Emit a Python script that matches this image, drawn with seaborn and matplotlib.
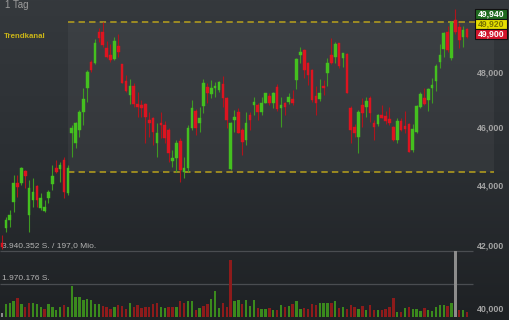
import numpy as np
import matplotlib
matplotlib.use("Agg")
import matplotlib.pyplot as plt
import matplotlib.transforms as mtransforms
from matplotlib.colors import LinearSegmentedColormap
from matplotlib.patches import Rectangle
import seaborn as sns

# ---------------- data ----------------
opens = [42090, 42580, 42850, 43450, 44090, 44090, 44500, 43010, 43510, 43990,
         43250, 43150, 43580, 44060, 44600, 44570, 44880, 43750, 45830, 45470,
         45930, 46580, 47450, 48410, 48370, 49540, 49540, 48940, 48670, 48520,
         49010, 48340, 47700, 47190, 47520, 46860, 46830, 46860, 46290, 46360,
         45470, 46180, 46110, 45930, 44850, 44950, 45540, 44470, 44600, 46000,
         46610, 46180, 46790, 47480, 47230, 47450, 47370, 47590, 47080, 44570,
         46290, 46580, 45930, 45580, 46470, 46830, 46830, 46580, 46900, 47160,
         46900, 47480, 46720, 46900, 46940, 47050, 47740, 48670, 48860, 48370,
         48110, 47160, 47050, 47520, 48000, 48670, 48600, 49120, 48560, 48710,
         46720, 46040, 45690, 46830, 46760, 47080, 46180, 46150, 46470, 46430,
         46320, 46040, 45580, 46250, 46070, 46150, 45230, 45860, 46760, 47080,
         47010, 47450, 47700, 48410, 48900, 49540, 48560, 50010, 49740, 49350,
         49660]
highs = [42350, 42950, 43180, 44360, 44360, 44640, 44530, 44190, 44260, 44020,
         43750, 43510, 43850, 44710, 44880, 44810, 44980, 44710, 46110, 46220,
         46650, 47450, 48110, 48480, 49280, 49700, 49930, 49200, 49090, 49350,
         49470, 48350, 47930, 47780, 47630, 47300, 47010, 46900, 46580, 46400,
         46180, 46580, 46250, 46000, 45230, 45580, 45650, 44980, 46110, 47010,
         46680, 46760, 47780, 47630, 47740, 47670, 47700, 47890, 47120, 46220,
         46650, 46720, 46000, 46580, 46580, 47120, 46900, 47120, 47270, 47260,
         47300, 47590, 47120, 46940, 47260, 47370, 48560, 48980, 48900, 48410,
         48150, 47520, 47780, 47740, 48560, 49320, 49160, 49130, 48750, 48730,
         46790, 46150, 46650, 47080, 47120, 47160, 46290, 46500, 46830, 46610,
         46760, 46070, 46360, 46360, 46610, 46180, 46150, 46830, 47300, 47450,
         47450, 47820, 48340, 49090, 49550, 49780, 49970, 50430, 49890, 49780,
         49700]
lows = [41900, 42450, 42620, 43110, 43620, 44020, 43920, 42450, 43280, 43280,
        43180, 43110, 43410, 43850, 44430, 44120, 43580, 43680, 44980, 45300,
        45690, 46110, 46940, 48040, 48340, 49160, 48980, 48560, 48410, 48480,
        48600, 47620, 47300, 46860, 46760, 46400, 46400, 45470, 45690, 45400,
        44980, 45650, 45470, 44810, 44640, 44470, 44120, 44260, 44470, 45930,
        45760, 45860, 46540, 46900, 47080, 47120, 47300, 46760, 46000, 44530,
        45860, 45820, 45050, 45400, 45930, 46470, 46290, 46470, 46890, 46830,
        46720, 46610, 46040, 46470, 46860, 46830, 47410, 48370, 47810, 47560,
        46940, 46470, 46970, 47190, 47520, 48340, 48370, 48190, 48220, 47250,
        45470, 45690, 45120, 46040, 46400, 46220, 45580, 46070, 46350, 46150,
        46110, 45540, 45470, 45900, 45830, 45150, 45160, 45830, 46720, 46830,
        46610, 46900, 47340, 48190, 48600, 48790, 48480, 49470, 48940, 48980,
        49320]
closes = [41960, 42850, 43010, 44090, 43950, 44600, 44330, 43920, 43780, 43510,
          43580, 43280, 43780, 44330, 44470, 44710, 43780, 44600, 46000, 46180,
          46580, 47050, 48040, 48110, 49130, 49310, 49050, 48600, 48480, 49200,
          48790, 47630, 47340, 47520, 46860, 46760, 46720, 46400, 46180, 45860,
          45830, 46110, 45650, 45120, 44950, 45470, 44530, 44600, 46000, 46720,
          46000, 46360, 47630, 47260, 47450, 47520, 47670, 47080, 46290, 46180,
          46400, 45830, 45510, 46180, 46290, 46940, 46580, 46900, 47260, 46900,
          47260, 46680, 46830, 46760, 47120, 46900, 48520, 48790, 48110, 47930,
          47010, 46900, 47260, 47450, 48370, 48370, 49090, 48260, 48750, 47260,
          45930, 45830, 46580, 46540, 46970, 46540, 46040, 46470, 46360, 46250,
          46180, 45580, 46250, 45930, 45970, 45160, 45970, 46790, 47230, 46860,
          47410, 47560, 48260, 48670, 49510, 48860, 49930, 49540, 49240, 49620,
          49350]
volumes = [256700, 776100, 817900, 973100, 1134300, 776100, 614900, 817900, 817900, 776100,
           614900, 495500, 776100, 614900, 417900, 614900, 734300, 579100, 1850800, 1211900,
           1211900, 1014900, 1092500, 1014900, 776100, 776100, 656700, 579100, 459700, 579100,
           698500, 656700, 495500, 817900, 579100, 734300, 537300, 614900, 614900, 776100,
           853700, 614900, 537300, 614900, 579100, 614900, 973100, 853700, 973100, 937300,
           417900, 537300, 656700, 776100, 1092500, 1570200, 537300, 853700, 579100, 3403000,
           973100, 1014900, 776100, 1014900, 656700, 1014900, 537300, 495500, 459700, 537300,
           417900, 417900, 734300, 579100, 656700, 776100, 937300, 495500, 537300, 495500,
           776100, 698500, 817900, 817900, 817900, 853700, 937300, 537300, 579100, 495500,
           734300, 614900, 495500, 656700, 417900, 698500, 417900, 417900, 417900, 495500,
           579100, 1116400, 298500, 298500, 537300, 579100, 495500, 459700, 376100, 537300,
           417900, 376100, 579100, 734300, 734300, 656700, 835800, 3940352, 417900, 417900,
           298500]
# volume bar colour class: g = up, r = down, f = unchanged/marked
vol_dir_codes = list("fgggrgrrgg" "grggggrggg" "ggggggrrrg" "rrrgrrrrrr" "rggrrgrrgg"
                     "rgrrgggrrr" "ggrggg" "rggr" "grgrgrggrr" "rrgggrgrgr"
                     "rrgrgrrgrr" "rrgrgrgggr" "gggggrgfrgr")
price_ticks = [48000, 46000, 44000, 42000, 40000]
price_tick_labels = ["48,000", "46,000", "44,000", "42,000", "40,000"]
channel_top = 49920
channel_bottom = 44470
channel_start_idx = 17
channel_end_idx = 127
vol_levels = [3940352, 1970176]
vol_level_labels = ["3.940.352 S. / 197,0 Mio.", "1.970.176 S."]
quote_labels = ["49,940", "49,920", "49,900"]
title_text = "1 Tag"
channel_text = "Trendkanal"

# ---------------- style ----------------
sns.set_style("dark")
plt.rcParams["font.family"] = ["Liberation Sans", "DejaVu Sans"]
plt.rcParams["lines.scale_dashes"] = False

W, H, DPI = 510, 320, 100
fig = plt.figure(figsize=(W / DPI, H / DPI), dpi=DPI)


def fx(px):
    return px / W


def fy(py):
    return 1 - py / H


# background gradient
bg = fig.add_axes([0, 0, 1, 1], zorder=0)
grad = np.linspace(0, 1, 256)[:, None]
cmap = LinearSegmentedColormap.from_list("bg", ["#35393d", "#2b2f33", "#1e2124"])
bg.imshow(grad, aspect="auto", cmap=cmap, extent=[0, 1, 0, 1])
bg.set_axis_off()

n = len(opens)
idx = np.arange(n)
o = np.array(opens, float)
h = np.array(highs, float)
l = np.array(lows, float)
c = np.array(closes, float)

xlim = (-2 / 3.875, (W - 2) / 3.875)

# ---------------- volume panel ----------------
axv = fig.add_axes([0, 3 / H, 1, 66 / H], zorder=1)
axv.patch.set_alpha(0)
dir_map = {"g": "up", "r": "down", "f": "flat"}
vol_dir = [dir_map[k] for k in vol_dir_codes]
sns.barplot(x=idx, y=volumes, hue=vol_dir, hue_order=["up", "down", "flat"],
            palette={"up": "#3b8a1d", "down": "#8e1b1b", "flat": "#8c8c8c"},
            native_scale=True, dodge=False, width=0.6, saturation=1,
            errorbar=None, legend=False, linewidth=0, edgecolor="none", ax=axv)
axv.set_xlim(*xlim)
axv.set_ylim(0, vol_levels[0])
axv.hlines(vol_levels, xlim[0], (473 - 2) / 3.875, colors="#4a4d51", lw=0.9,
           zorder=0, clip_on=False)
for lev, lab in zip(vol_levels, vol_level_labels):
    axv.annotate(lab, (xlim[0], lev), xytext=(1.5, 1.5), textcoords="offset points",
                 ha="left", va="bottom", fontsize=6, color="#b4b4b4")
axv.set_axis_off()

# ---------------- price panel ----------------
ax = fig.add_axes([0, 0, 1, 1], zorder=2)
ax.patch.set_alpha(0)
ax.set_yscale("log")
ax.set_xlim(*xlim)
ax.set_ylim(39661, 50785)
ax.set_axis_off()

# trend channel
ax.fill_between([channel_start_idx, channel_end_idx], channel_bottom, channel_top,
                color="white", alpha=0.045, lw=0, zorder=1)
ax.hlines([channel_top, channel_bottom], channel_start_idx, channel_end_idx,
          colors="#b9a21c", lw=1.1, linestyles=[(0, (4.6, 3.0))], zorder=2)

up = c >= o
wick_cols = np.where(up, "#3e9a22", "#b0141c")
body_cols = np.where(up, "#44c01f", "#dd1420")
ax.vlines(idx, l, h, colors=wick_cols, lw=0.8, zorder=3)
ax.bar(idx, np.abs(c - o), bottom=np.minimum(o, c), width=0.68,
       color=body_cols, edgecolor=body_cols, lw=0.3, zorder=4)

# price axis labels
trans = mtransforms.blended_transform_factory(ax.transAxes, ax.transData)
for val, lab in zip(price_ticks, price_tick_labels):
    ax.text(504 / W, val, lab, transform=trans, ha="right", va="center",
            fontsize=6.4, fontweight="bold", color="#a3a3a3", zorder=5)

# quote boxes
box_specs = [("#1f6b1f", "white"), ("#e6df00", "#7a7400"), ("#d4162c", "white")]
for k, (lab, (fc, tc)) in enumerate(zip(quote_labels, box_specs)):
    y0 = 8.5 + 10.3 * k
    fig.add_artist(Rectangle((fx(475), fy(y0 + 10.3)), 32 / W, 10.3 / H,
                             transform=fig.transFigure, facecolor=fc,
                             edgecolor="#111111", lw=0.8, zorder=10))
    fig.text(fx(491), fy(y0 + 5.3), lab, ha="center", va="center",
             fontsize=6.2, fontweight="bold", color=tc, zorder=11)

# titles
fig.text(fx(5), fy(7.5), title_text, ha="left", va="baseline", fontsize=7,
         color="#9c9c9c", zorder=11)
fig.text(fx(4), fy(37), channel_text, ha="left", va="center", fontsize=5.7,
         fontweight="bold", color="#c9b418", zorder=11)

fig.savefig("out.png", dpi=DPI)
